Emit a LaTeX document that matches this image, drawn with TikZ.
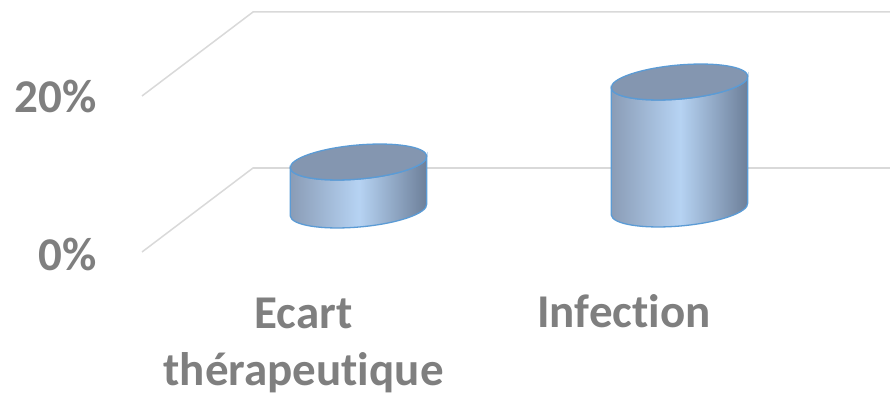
\documentclass[tikz,border=0pt]{standalone}
\usepackage{fontspec}
\setmainfont{Carlito}[Ligatures=NoCommon]
\usetikzlibrary{positioning,calc}
\definecolor{grid}{RGB}{217,217,217}
\definecolor{lbl}{RGB}{127,127,127}
\definecolor{cyledge}{RGB}{91,155,213}
\definecolor{cyltopc}{RGB}{132,150,176}
\definecolor{cylside}{RGB}{138,156,182}
\definecolor{cyllight}{RGB}{182,211,243}
\definecolor{cyldark}{RGB}{108,126,152}

% cylinder: centre x, bottom y, height
\newcommand{\cylbar}[4]{%
  \begin{scope}[shift={(#2,#3)},rotate=5]
    \path[cylbody] (-68.5,0) arc[start angle=180,end angle=360,x radius=68.5,y radius=17]
      -- ++({#4*sin(5)},{#4*cos(5)}) arc[start angle=0,end angle=-180,x radius=68.5,y radius=17] -- cycle;
    \path[cyltop] ({#4*sin(5)},{#4*cos(5)}) ellipse[x radius=68.5,y radius=17];
    \coordinate (#1) at ({#4*sin(5)},{#4*cos(5)});
  \end{scope}}

\begin{document}
\begin{tikzpicture}[x=1pt,y=1pt,
    gridline/.style={draw=grid,line width=1.5pt},
    cylbody/.style={draw=cyledge,line width=1.3pt,left color=cylside,right color=cyldark,middle color=cyllight},
    cyltop/.style={draw=cyledge,line width=1.3pt,fill=cyltopc},
    axlabel/.style={text=lbl,font=\fontsize{47}{50}\selectfont\bfseries,inner sep=0pt},
    catlabel/.style={text=lbl,font=\fontsize{47}{57}\selectfont\bfseries,inner sep=0pt,align=center}]
	\useasboundingbox (0,0) rectangle (890,394);
	% grid
	\draw[gridline] (142,298) -- (253,382) -- (890,382);
	\draw[gridline] (142,142) -- (253,226) -- (890,226);
	% bars
	\cylbar{topA}{358.5}{184}{48}
	\cylbar{topB}{679.5}{185}{127}
	% axis
	\node[axlabel,anchor=base east] (p20) at (97,281) {20\%};
	\node[axlabel,anchor=base east] (p0) at (97,124) {0\%};
	% categories
	\node[catlabel,anchor=base] (ecart) at (303.5,9) {Ecart\\thérapeutique};
	\node[catlabel,anchor=base] (infect) at (624,67) {Infection};
\end{tikzpicture}
\end{document}
